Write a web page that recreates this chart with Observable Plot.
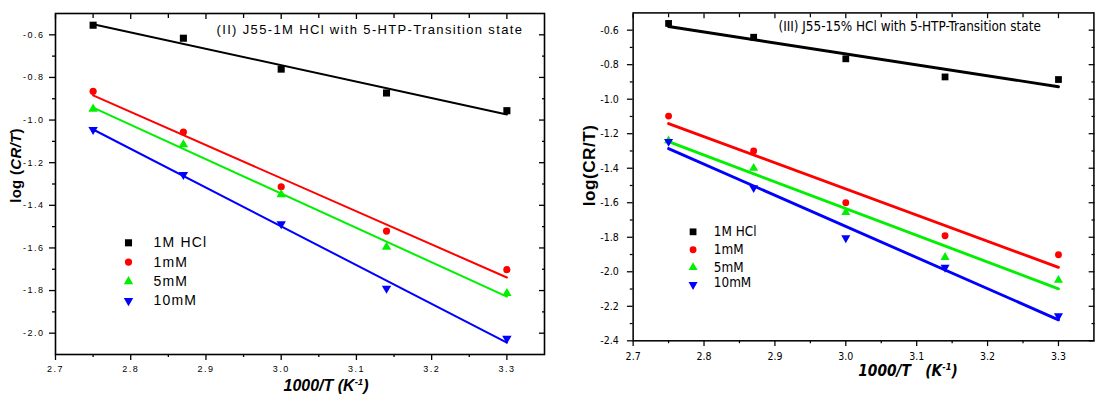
<!DOCTYPE html>
<html><head><meta charset="utf-8">
<script src="https://cdn.jsdelivr.net/npm/d3@7"></script>
<script src="https://cdn.jsdelivr.net/npm/@observablehq/plot@0.6"></script>
<style>
html,body{margin:0;padding:0;overflow:hidden;background:#fff;}
#wrap{position:relative;width:1103px;height:394px;overflow:hidden;}
#left{position:absolute;left:0;top:0;}
#right{position:absolute;left:560px;top:0;}
</style></head><body><div id="wrap"><div id="left"></div><div id="right"></div></div>
<script>
// ---- data ----
const invT = [2.75, 2.87, 3.0, 3.14, 3.3];
const seriesNames = ["1M HCl", "1mM", "5mM", "10mM"];
const seriesColors = ["#000000", "#ff0000", "#00f000", "#0000ff"];
const seriesSymbols = ["square", "circle", "triangle", "triangle"];
const seriesRotate = [0, 0, 0, 180];

// Panel (II) J55 - 1M HCl
const p2HCl  = [-0.555, -0.616, -0.761, -0.873, -0.956];
const p2_1mM = [-0.865, -1.056, -1.313, -1.521, -1.702];
const p2_5mM = [-0.948, -1.115, -1.349, -1.596, -1.813];
const p2_10mM = [-1.045, -1.256, -1.487, -1.790, -2.025];

// Panel (III) J55 - 15% HCl
const p3HCl  = [-0.561, -0.641, -0.766, -0.871, -0.886];
const p3_1mM = [-1.098, -1.300, -1.600, -1.791, -1.901];
const p3_5mM = [-1.240, -1.400, -1.656, -1.916, -2.049];
const p3_10mM = [-1.245, -1.514, -1.804, -1.975, -2.256];

// ticks
const xTicks = [2.7, 2.8, 2.9, 3.0, 3.1, 3.2, 3.3];
const xMinor = [2.75, 2.85, 2.95, 3.05, 3.15, 3.25];
const yTicksII = [-2.0, -1.8, -1.6, -1.4, -1.2, -1.0, -0.8, -0.6];
const yMinorII = [-1.9, -1.7, -1.5, -1.3, -1.1, -0.9, -0.7];
const yTicksIII = [-2.4, -2.2, -2.0, -1.8, -1.6, -1.4, -1.2, -1.0, -0.8, -0.6];
const yMinorIII = [-2.3, -2.1, -1.9, -1.7, -1.5, -1.3, -1.1, -0.9, -0.7];

function toRows(arrs) {
  const rows = [];
  arrs.forEach((vals, i) => vals.forEach((v, j) => rows.push({x: invT[j], y: v, s: seriesNames[i], i})));
  return rows;
}
const rowsII = toRows([p2HCl, p2_1mM, p2_5mM, p2_10mM]);
const rowsIII = toRows([p3HCl, p3_1mM, p3_5mM, p3_10mM]);

const fmt = d => d.toFixed(1);

function panel(cfg) {
  const marks = [];
  marks.push(Plot.axisX({ticks: xTicks, tickSize: 6, tickPadding: cfg.xPad, tickFormat: fmt, label: null, fontSize: cfg.tickFont, className: "tk", strokeWidth: cfg.axisW}));
  marks.push(Plot.axisX({ticks: xMinor, tickSize: 3, tickFormat: () => "", label: null, strokeWidth: cfg.axisW}));
  marks.push(Plot.axisX({anchor: "top", ticks: xTicks, tickSize: 5, dy: 5, tickFormat: () => "", label: null, strokeWidth: cfg.axisW}));
  marks.push(Plot.axisX({anchor: "top", ticks: xMinor, tickSize: 4, dy: 4, tickFormat: () => "", label: null, strokeWidth: cfg.axisW}));
  marks.push(Plot.axisY({ticks: cfg.yTicks, tickSize: 6, tickPadding: cfg.yPad, tickFormat: fmt, label: null, fontSize: cfg.tickFont, className: "tk", strokeWidth: cfg.axisW}));
  marks.push(Plot.axisY({ticks: cfg.yMinor, tickSize: 3, tickFormat: () => "", label: null, strokeWidth: cfg.axisW}));
  marks.push(Plot.axisY({anchor: "right", ticks: cfg.yTicks, tickSize: 6, dx: -6, tickFormat: () => "", label: null, strokeWidth: cfg.axisW}));
  marks.push(Plot.axisY({anchor: "right", ticks: cfg.yMinor, tickSize: 3, dx: -3, tickFormat: () => "", label: null, strokeWidth: cfg.axisW}));
  marks.push(Plot.frame({stroke: "#000", strokeWidth: cfg.frameW}));
  seriesNames.forEach((s, i) => {
    marks.push(Plot.linearRegressionY(cfg.rows.filter(d => d.i === i), {x: "x", y: "y", stroke: seriesColors[i], strokeWidth: cfg.lineW, ci: 0}));
  });
  seriesNames.forEach((s, i) => {
    marks.push(Plot.dot(cfg.rows.filter(d => d.i === i), {x: "x", y: "y", symbol: seriesSymbols[i], fill: seriesColors[i], stroke: "none", r: cfg.r[i], rotate: seriesRotate[i]}));
  });
  seriesNames.forEach((s, i) => {
    marks.push(Plot.dot([s], {frameAnchor: "top-left", dx: cfg.legDx, dy: cfg.legDy[i], symbol: seriesSymbols[i], fill: seriesColors[i], stroke: "none", r: cfg.r[i], rotate: seriesRotate[i]}));
    marks.push(Plot.text([s], {frameAnchor: "top-left", dx: cfg.legTx, dy: cfg.legTy[i], text: d => d, textAnchor: "start", lineAnchor: "middle", fontSize: cfg.legFont, fontFamily: cfg.font, fill: "#000", className: cfg.legClass}));
  });
  marks.push(Plot.text([cfg.title], {frameAnchor: "top-left", dx: cfg.titleDx, dy: cfg.titleDy, text: d => d, textAnchor: "start", lineAnchor: "middle", fontSize: cfg.titleFont, fontFamily: cfg.font, fill: "#000", className: cfg.titleClass}));

  return Plot.plot({
    width: cfg.width, height: 394,
    marginLeft: cfg.mL, marginRight: cfg.mR, marginTop: 13, marginBottom: cfg.mB,
    x: {domain: [2.7, 3.35]},
    y: {domain: cfg.yDomain},
    style: {fontFamily: cfg.font, fontSize: cfg.tickFont + "px", color: "#000", background: "transparent", overflow: "visible"},
    marks
  });
}

const left = panel({
  width: 560, mL: 55, mR: 16, mB: 40, yDomain: [-2.1, -0.5],
  yTicks: yTicksII, yMinor: yMinorII, rows: rowsII,
  font: "Liberation Sans, Arial, sans-serif", tickFont: 9, xPad: 5, yPad: 5,
  axisW: 1.3, frameW: 1.6, lineW: 2, r: [4, 3.6, 3.5, 3.5],
  legDx: 73, legDy: [229.3, 248.6, 268, 287.3], legTx: 98, legTy: [229.3, 248.6, 268, 287.3], legFont: 14, legClass: "legL",
  title: "(II) J55-1M HCl with 5-HTP-Transition state", titleDx: 161, titleDy: 16.3, titleFont: 13, titleClass: "ttlL"
});
const right = panel({
  width: 568, mL: 76, mR: 10, mB: 38, yDomain: [-2.4, -0.5],
  yTicks: yTicksIII, yMinor: yMinorIII, rows: rowsIII,
  font: "Liberation Sans Narrow, Arial Narrow, DejaVu Sans Condensed, sans-serif", tickFont: 11, xPad: 6, yPad: 9,
  axisW: 1.3, frameW: 1.6, lineW: 3, r: [4, 3.6, 3.5, 3.5],
  legDx: 62.7, legDy: [229, 247.7, 266.3, 284.3], legTx: 84.4, legTy: [229.3, 248, 266.3, 282], legFont: 14, legClass: "legR",
  title: "(III) J55-15% HCl with 5-HTP-Transition state", titleDx: 152, titleDy: 14, titleFont: 14, titleClass: "ttlR"
});
document.getElementById("left").appendChild(left);
document.getElementById("right").appendChild(right);

d3.select(left).selectAll(".legL text").style("letter-spacing", "1.2px");
d3.select(left).selectAll(".ttlL text").style("letter-spacing", "1.35px");
d3.select(left).selectAll(".tk text").style("letter-spacing", "1.5px");

function addText(svg, x, y, rot, parts, base) {
  const t = d3.select(svg).append("text")
    .attr("transform", `translate(${x},${y}) rotate(${rot})`)
    .attr("text-anchor", "middle")
    .style("font-family", base.font).style("font-size", base.size + "px")
    .style("font-weight", base.weight).style("font-style", base.style || "normal")
    .style("letter-spacing", base.ls || "0px").attr("fill", "#000");
  parts.forEach(p => {
    const ts = t.append("tspan").text(p.t);
    if (p.italic) ts.style("font-style", "italic");
    if (p.sup) ts.style("font-size", (base.size * 0.6) + "px").attr("dy", -base.size * 0.4);
    if (p.unsup) ts.attr("dy", base.size * 0.4);
  });
}
addText(left, 21, 165.5, -90, [{t: "log ("}, {t: "CR/T", italic: true}, {t: ")"}],
  {font: "Liberation Sans, Arial, sans-serif", size: 15, weight: "bold", ls: "0.3px"});
addText(left, 326, 391, 0, [{t: "1000/T (K"}, {t: "-1", sup: true}, {t: ")", unsup: true}],
  {font: "Liberation Sans, Arial, sans-serif", size: 16, weight: "bold", style: "italic"});
addText(right, 37, 173, -90, [{t: "log(CR/T)"}],
  {font: "Liberation Sans, Arial, sans-serif", size: 18, weight: "bold", ls: "0.5px"});
addText(right, 364, 393, 0, [{t: "1000/T\u00a0\u00a0\u00a0(K"}, {t: "-1", sup: true}, {t: ")", unsup: true}],
  {font: "Liberation Sans Narrow, Arial Narrow, DejaVu Sans Condensed, sans-serif", size: 16, weight: "bold", style: "italic"});
</script></body></html>
